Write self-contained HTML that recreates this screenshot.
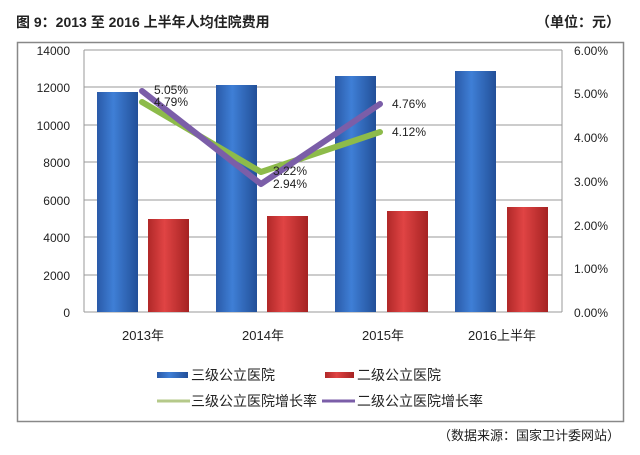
<!DOCTYPE html>
<html><head><meta charset="utf-8"><style>
body{margin:0;background:#fff;width:640px;height:450px;overflow:hidden}
text{font-family:"Liberation Sans","Noto Sans CJK SC",sans-serif}
</style></head><body>
<svg width="640" height="450" viewBox="0 0 640 450" xmlns="http://www.w3.org/2000/svg">
<defs>
<linearGradient id="b" x1="0" x2="1"><stop offset="0" stop-color="#2a5aa8"/><stop offset="0.4" stop-color="#3f7fd6"/><stop offset="1" stop-color="#224f98"/></linearGradient>
<linearGradient id="r" x1="0" x2="1"><stop offset="0" stop-color="#b02828"/><stop offset="0.4" stop-color="#e04444"/><stop offset="1" stop-color="#a52222"/></linearGradient>
</defs>
<text x="16" y="27" font-size="14" font-weight="bold" fill="#222">图 9：2013 至 2016 上半年人均住院费用</text>
<text x="620" y="27" font-size="14" font-weight="bold" fill="#222" text-anchor="end">（单位：元）</text>
<rect x="17.5" y="42.5" width="606" height="379" fill="#fff" stroke="#888" stroke-width="1.5"/>
<g stroke="#999" stroke-width="1">
<line x1="84" y1="50" x2="562" y2="50"/><line x1="84" y1="87" x2="562" y2="87"/><line x1="84" y1="125" x2="562" y2="125"/><line x1="84" y1="162" x2="562" y2="162"/><line x1="84" y1="200" x2="562" y2="200"/><line x1="84" y1="237" x2="562" y2="237"/><line x1="84" y1="275" x2="562" y2="275"/><line x1="84" y1="312" x2="562" y2="312"/>
<line x1="84" y1="50" x2="84" y2="312"/><line x1="562" y1="50" x2="562" y2="312"/>
</g>
<g font-size="12" fill="#222" text-anchor="end">
<text x="70" y="55">14000</text><text x="70" y="92">12000</text><text x="70" y="130">10000</text><text x="70" y="167">8000</text><text x="70" y="205">6000</text><text x="70" y="242">4000</text><text x="70" y="280">2000</text><text x="70" y="317">0</text>
</g>
<g font-size="12" fill="#222" text-anchor="end">
<text x="608" y="55">6.00%</text><text x="608" y="98">5.00%</text><text x="608" y="142">4.00%</text><text x="608" y="186">3.00%</text><text x="608" y="230">2.00%</text><text x="608" y="273">1.00%</text><text x="608" y="317">0.00%</text>
</g>
<rect x="97" y="92" width="41" height="220" fill="url(#b)"/>
<rect x="216" y="85" width="41" height="227" fill="url(#b)"/>
<rect x="335" y="76" width="41" height="236" fill="url(#b)"/>
<rect x="455" y="71" width="41" height="241" fill="url(#b)"/>
<rect x="148" y="219" width="41" height="93" fill="url(#r)"/>
<rect x="267" y="216" width="41" height="96" fill="url(#r)"/>
<rect x="387" y="211" width="41" height="101" fill="url(#r)"/>
<rect x="507" y="207" width="41" height="105" fill="url(#r)"/>
<polyline points="142,102 261,172 380,132" fill="none" stroke="#8dbb4a" stroke-width="6" stroke-linecap="round" stroke-linejoin="round"/>
<polyline points="142,91 261,184 380,104" fill="none" stroke="#7b5ea8" stroke-width="6" stroke-linecap="round" stroke-linejoin="round"/>
<g font-size="12" fill="#222">
<text x="154" y="94">5.05%</text><text x="154" y="106">4.79%</text>
<text x="273" y="175">3.22%</text><text x="273" y="188">2.94%</text>
<text x="392" y="108">4.76%</text><text x="392" y="136">4.12%</text>
</g>
<g font-size="13" fill="#222" text-anchor="middle">
<text x="143" y="340">2013年</text><text x="263" y="340">2014年</text><text x="383" y="340">2015年</text><text x="502" y="340">2016上半年</text>
</g>
<rect x="157" y="372" width="31" height="6" fill="url(#b)"/>
<text x="191" y="380" font-size="14" fill="#222">三级公立医院</text>
<rect x="325" y="372" width="29" height="6" fill="url(#r)"/>
<text x="357" y="380" font-size="14" fill="#222">二级公立医院</text>
<line x1="157" y1="401" x2="190" y2="401" stroke="#b5c98a" stroke-width="3"/>
<text x="191" y="406" font-size="14" fill="#222">三级公立医院增长率</text>
<line x1="322" y1="401" x2="355" y2="401" stroke="#7b5ea8" stroke-width="3"/>
<text x="357" y="406" font-size="14" fill="#222">二级公立医院增长率</text>
<text x="620" y="440" font-size="13" fill="#222" text-anchor="end">（数据来源：国家卫计委网站）</text>
</svg>
</body></html>
